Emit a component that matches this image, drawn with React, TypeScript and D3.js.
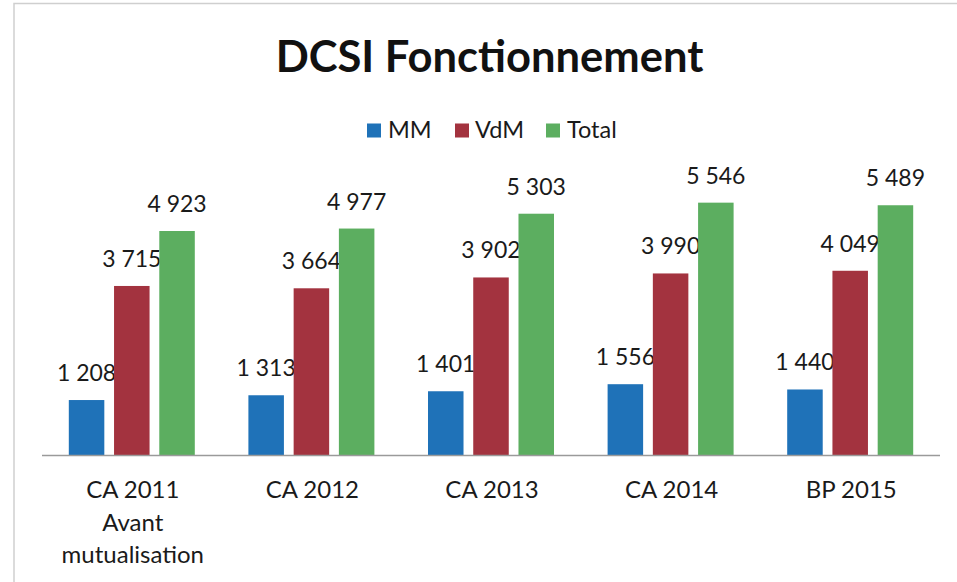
import React from "react";
import * as d3 from "d3";

const categories = ["CA 2011", "CA 2012", "CA 2013", "CA 2014", "BP 2015"];
const categoryLines = [
  ["CA 2011", "Avant", "mutualisation"],
  ["CA 2012"],
  ["CA 2013"],
  ["CA 2014"],
  ["BP 2015"],
];
const seriesNames = ["MM", "VdM", "Total"];
const mmValues = [1208, 1313, 1401, 1556, 1440];
const vdmValues = [3715, 3664, 3902, 3990, 4049];
const totalValues = [4923, 4977, 5303, 5546, 5489];
const colors = ["#1f72b8", "#a3333f", "#5cae60"];

const W = 957;
const H = 582;
const FONT = "Lato, 'Open Sans', sans-serif";

const fmt = (v: number) => d3.format(",")(v).replace(/,/g, " ");

export default function App() {
  const seriesValues = [mmValues, vdmValues, totalValues];

  const x0 = d3.scaleBand<string>().domain(categories).range([42, 940]);
  const side = 26.8;
  const x1 = d3
    .scaleBand<string>()
    .domain(seriesNames)
    .range([side, x0.bandwidth() - side])
    .paddingInner(0.215);
  const y = d3.scaleLinear().domain([0, 6000]).range([455, 182]);

  const legendItems = [
    { name: "MM", sq: 367, tx: 388 },
    { name: "VdM", sq: 455, tx: 475 },
    { name: "Total", sq: 546, tx: 567 },
  ];

  return (
    <div style={{ position: "absolute", left: 0, top: 0 }}>
      <svg width={W} height={H} style={{ display: "block", background: "#fff" }}>
        {/* chart frame */}
        <path d={`M14,${H + 2} L14,3.5 L${W + 2},3.5`} fill="none" stroke="#cfcfcf" strokeWidth={1.5} />

        <text
          x={489.5}
          y={72}
          textAnchor="middle"
          fontFamily={FONT}
          fontWeight="bold"
          fontSize={43.5}
          fill="#111"
        >
          DCSI Fonctionnement
        </text>

        {/* legend */}
        {legendItems.map((d, i) => (
          <g key={d.name}>
            <rect x={d.sq} y={123.5} width={14} height={14} fill={colors[i]} />
            <text x={d.tx} y={138} fontFamily={FONT} fontSize={23.5} fill="#1a1a1a">
              {d.name}
            </text>
          </g>
        ))}

        {/* bars */}
        {categories.map((c, ci) => (
          <g key={c} transform={`translate(${x0(c)},0)`}>
            {seriesNames.map((s, si) => {
              const v = seriesValues[si][ci];
              const bx = x1(s) as number;
              return (
                <g key={s}>
                  <rect
                    x={bx}
                    y={y(v)}
                    width={x1.bandwidth()}
                    height={y(0) - y(v)}
                    fill={colors[si]}
                  />
                  <text
                    x={bx + x1.bandwidth() / 2}
                    y={y(v) - 19}
                    textAnchor="middle"
                    fontFamily={FONT}
                    fontSize={23}
                    fill="#1a1a1a"
                  >
                    {fmt(v)}
                  </text>
                </g>
              );
            })}
          </g>
        ))}

        {/* category axis */}
        <line x1={42} x2={940} y1={455.5} y2={455.5} stroke="#9a9a9a" strokeWidth={1.5} />
        {categories.map((c, ci) => (
          <text
            key={c}
            x={(x0(c) as number) + x0.bandwidth() / 2 + 1}
            y={498}
            textAnchor="middle"
            fontFamily={FONT}
            fontSize={24}
            fill="#1a1a1a"
          >
            {categoryLines[ci].map((line, li) => (
              <tspan key={li} x={(x0(c) as number) + x0.bandwidth() / 2 + 1} dy={li === 0 ? 0 : 32.6}>
                {line}
              </tspan>
            ))}
          </text>
        ))}
      </svg>
    </div>
  );
}
